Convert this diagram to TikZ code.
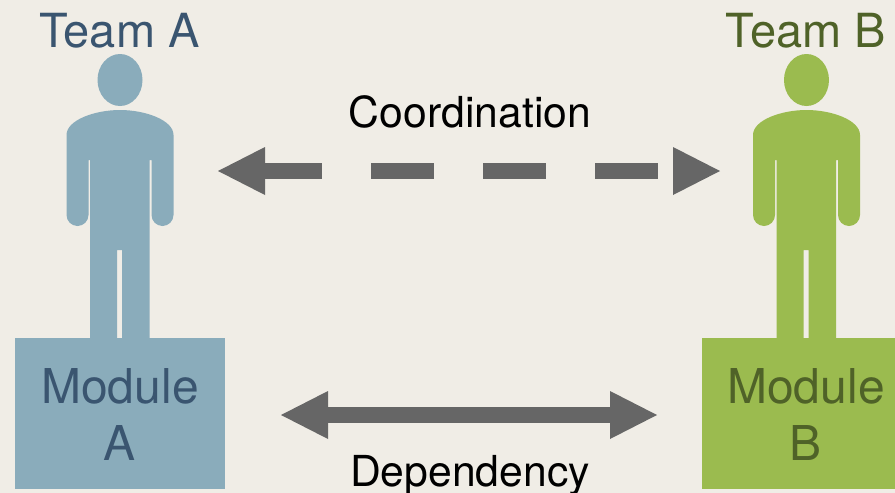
\documentclass[tikz,border=0pt]{standalone}
\usepackage{fontspec}
\setmainfont{TeX Gyre Heros}
\usetikzlibrary{arrows.meta}
\definecolor{bgc}{HTML}{F0EDE6}
\definecolor{bluef}{HTML}{8AACBB}
\definecolor{bluet}{HTML}{3A5570}
\definecolor{greenf}{HTML}{9BBB4F}
\definecolor{greent}{HTML}{4F6228}
\definecolor{arrowc}{HTML}{666666}
\tikzset{
  teamlabel/.style={inner sep=0pt,anchor=base,font=\fontsize{47}{47}\selectfont},
  modlabel/.style={inner sep=0pt,anchor=center,align=center,font=\fontsize{48}{57}\selectfont},
  caption/.style={inner sep=0pt,anchor=base,text=black,font=\fontsize{42.7}{42.7}\selectfont},
  modbox/.style={inner sep=0pt,anchor=north west},
  link/.style={line width=16pt,draw=arrowc,{Triangle[width=48pt,length=47pt,fill=arrowc,line width=0pt]}-{Triangle[width=48pt,length=47pt,fill=arrowc,line width=0pt]}},
  person/.pic={
    \fill (0,0) ellipse [x radius=22.5,y radius=26];
    \fill (-53.5,55) .. controls (-53.5,40) and (-25,30) .. (0,30)
      .. controls (25,30) and (53.5,40) .. (53.5,55)
      -- (53.5,135) arc[start angle=0,end angle=180,x radius=11,y radius=11]
      -- (31.5,80) -- (29.5,80) -- (29.5,258) -- (2,258) -- (2,170) -- (-3,170) -- (-3,258) -- (-30,258)
      -- (-30,80) -- (-31.5,80) -- (-31.5,135)
      arc[start angle=0,end angle=180,x radius=11,y radius=11] -- cycle;
  }
}
\begin{document}
\begin{tikzpicture}[x=1pt,y=-1pt]
\useasboundingbox (0,0) rectangle (895,493);
\fill[bgc] (0,0) rectangle (895,493);
\pic[fill=bluef] at (120,80) {person};
\pic[fill=greenf] at (806.5,80) {person};
\node[modbox,fill=bluef,minimum width=210pt,minimum height=151pt] (boxA) at (15,338) {};
\node[modbox,fill=greenf,minimum width=193pt,minimum height=151pt] (boxB) at (702,338) {};
\node[teamlabel,text=bluet] (teamA) at (119.5,47) {Team A};
\node[teamlabel,text=greent] (teamB) at (806,47) {Team B};
\node[modlabel,text=bluet] (modA) at (120,414) {Module\\A};
\node[modlabel,text=greent] (modB) at (806,414) {Module\\B};
\node[caption] (coord) at (470,127) {Coordination};
\node[caption] (dep) at (470,486) {Dependency};
\coordinate (c1) at (218,171);
\coordinate (c2) at (720,171);
\coordinate (d1) at (281,415);
\coordinate (d2) at (657,415);
\draw[link,dash pattern=on 63pt off 49pt,dash phase=6pt] (c1) -- (c2);
\draw[link] (d1) -- (d2);
\end{tikzpicture}
\end{document}
